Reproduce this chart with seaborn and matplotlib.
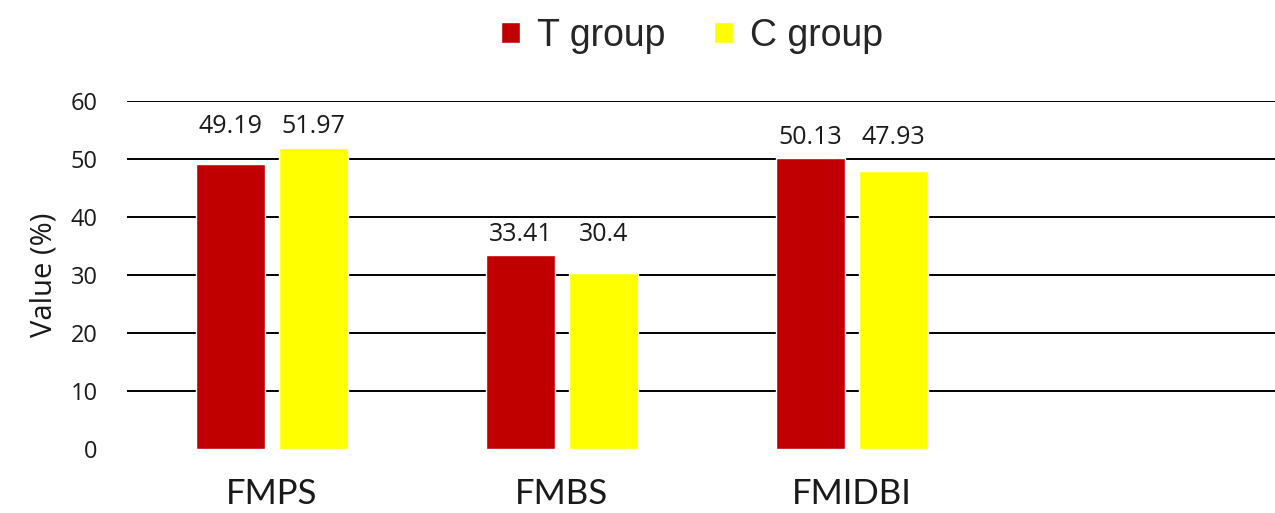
import matplotlib
matplotlib.use("Agg")
import matplotlib.pyplot as plt
import seaborn as sns
import pandas as pd

categories = ["FMPS", "FMBS", "FMIDBI"]
groups = ["T group", "C group"]
t_values = [49.19, 33.41, 50.13]
c_values = [51.97, 30.4, 47.93]
y_ticks = [0, 10, 20, 30, 40, 50, 60]
palette = {"T group": "#C00000", "C group": "#FFFF00"}
text_color = "#1a1a1a"

df = pd.DataFrame({
    "category": categories * 2,
    "group": [groups[0]] * 3 + [groups[1]] * 3,
    "value": t_values + c_values,
})

sns.set_theme(style="white")
plt.rcParams["font.family"] = ["Open Sans", "DejaVu Sans"]

fig = plt.figure(figsize=(12.75, 5.13), dpi=100)
# four category slots; the last one stays empty and runs past the right edge
ax = fig.add_axes([127 / 1275, 64 / 513, 1160 / 1275, (449 - 101) / 513])

sns.barplot(data=df, x="category", y="value", hue="group", order=categories,
            hue_order=groups, palette=palette, width=0.571, gap=0.16,
            saturation=1, ax=ax, legend=True)

ax.set_xlim(-0.5, 3.5)
ax.set_ylim(0, 60)
ax.set_yticks(y_ticks)
ax.set_yticklabels([str(t) for t in y_ticks], fontsize=17, color=text_color)
ax.tick_params(axis="y", length=0, pad=21)
ax.tick_params(axis="x", length=0, pad=21)
ax.set_xlabel("")
ax.set_ylabel("Value (%)", fontsize=21, labelpad=9, color=text_color)
for lbl in ax.get_xticklabels():
    lbl.set_fontsize(25)
    lbl.set_family("Lato")
    lbl.set_color(text_color)

ax.yaxis.grid(True, color="black", linewidth=1.4)
ax.set_axisbelow(True)
ax.yaxis.get_gridlines()[0].set_visible(False)
for s in ax.spines.values():
    s.set_visible(False)

# value labels sit above the taller bar of each pair
group_top = [max(t, c) for t, c in zip(t_values, c_values)]
for container, vals in zip(ax.containers, [t_values, c_values]):
    for i, (bar, v) in enumerate(zip(container, vals)):
        x = bar.get_x() + bar.get_width() / 2
        ax.annotate(f"{v:g}", xy=(x, group_top[i]), xytext=(0, 6),
                    textcoords="offset points", ha="center", va="bottom",
                    fontsize=18, color=text_color)

handles, labels = ax.get_legend_handles_labels()
ax.get_legend().remove()
fig.legend(handles, labels, loc="center", bbox_to_anchor=(692 / 1275, 1 - 36 / 513),
           ncol=2, frameon=False, prop={"family": "Liberation Sans", "size": 27},
           handlelength=0.5, handleheight=0.5, handletextpad=0.45,
           columnspacing=1.3)

fig.savefig("out.png", dpi=100)
